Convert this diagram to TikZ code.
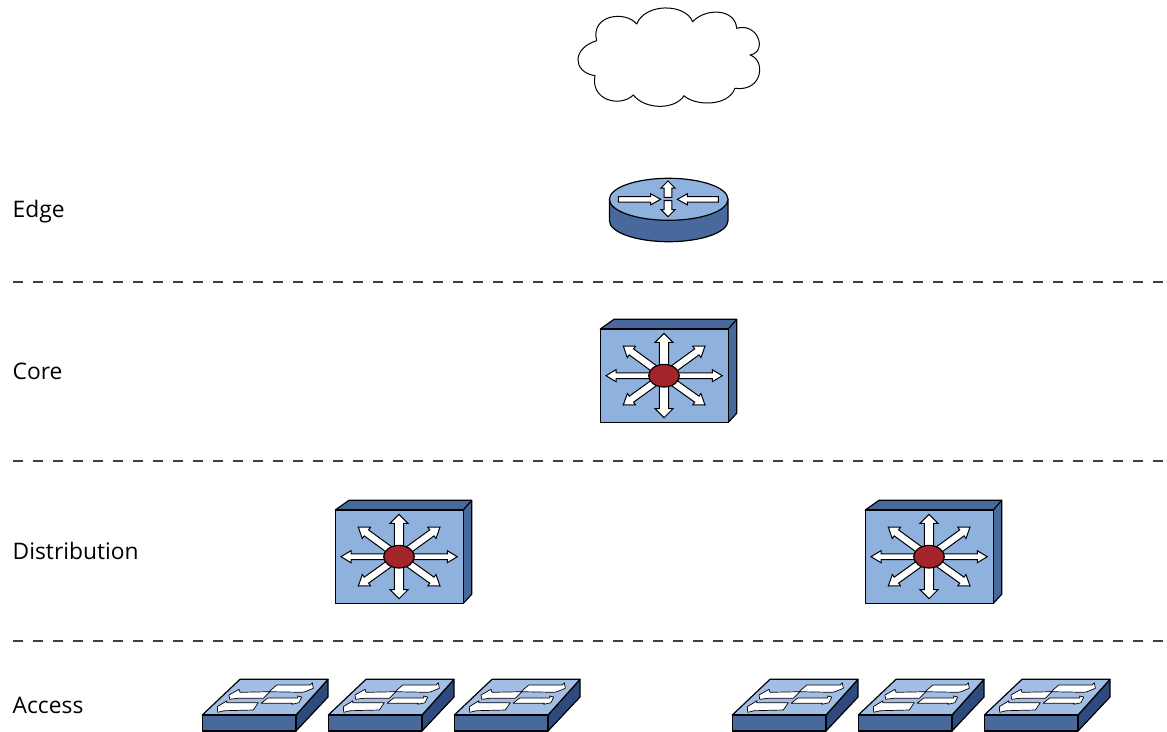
\documentclass[tikz,border=0pt]{standalone}
\usepackage{fontspec}
\setmainfont{Open Sans}
\definecolor{lightblue}{HTML}{8EB1DE}
\definecolor{midblue}{HTML}{48699C}
\definecolor{pale}{HTML}{A3BEE5}
\definecolor{sideblue}{HTML}{2F4A7E}
\definecolor{redhub}{HTML}{A3242B}
\tikzset{
  devline/.style={draw=black,line width=1.2pt,line join=round},
  blockarrow/.style={draw=black,fill=white,line width=1pt,line join=miter},
  levellabel/.style={anchor=base west,inner sep=0pt,font=\fontsize{22.8}{26}\selectfont},
  levelline/.style={draw=black!75,line width=1.3pt,dash pattern=on 10pt off 10pt},
  flagarrow/.style={draw=black,fill=white,line width=0.7pt,line join=round}
}
% tail x, tail y, tip x, tip y, shaft half width, head half width, head length
\newcommand{\blockarr}[7]{%
  \pgfmathsetmacro{\dxx}{#3-(#1)}\pgfmathsetmacro{\dyy}{#4-(#2)}%
  \pgfmathsetmacro{\lenn}{sqrt(\dxx*\dxx+\dyy*\dyy)}%
  \pgfmathsetmacro{\ux}{\dxx/\lenn}\pgfmathsetmacro{\uy}{\dyy/\lenn}%
  \pgfmathsetmacro{\bx}{#3-\ux*#7}\pgfmathsetmacro{\by}{#4-\uy*#7}%
  \draw[blockarrow]
    ({#1-\uy*#5},{#2+\ux*#5}) -- ({\bx-\uy*#5},{\by+\ux*#5}) --
    ({\bx-\uy*#6},{\by+\ux*#6}) -- (#3,#4) --
    ({\bx+\uy*#6},{\by-\ux*#6}) -- ({\bx+\uy*#5},{\by-\ux*#5}) --
    ({#1+\uy*#5},{#2-\ux*#5}) -- cycle;%
}
% L3 switch, offsets from the core switch
\newcommand{\layerthree}[2]{%
\begin{scope}[shift={(#1,#2)}]
  \fill[midblue,devline] (600.3,329) -- (614,319.3) -- (736.7,319.3) -- (736.7,413.3) -- (728.3,422.3) -- (728.3,329) -- cycle;
  \draw[devline] (728.3,329) -- (736.7,319.3);
  \fill[lightblue,devline] (600.3,329) rectangle (728.3,422.3);
  \blockarr{664}{375.7}{705}{346}{3.7}{7}{10}
  \blockarr{664}{375.7}{623.3}{346}{3.7}{7}{10}
  \blockarr{664}{375.7}{705}{405}{3.7}{7}{10}
  \blockarr{664}{375.7}{623.3}{405}{3.7}{7}{10}
  \blockarr{664}{375.7}{722.3}{375.7}{2.8}{6}{10}
  \blockarr{664}{375.7}{606}{375.7}{2.8}{6}{10}
  \blockarr{664}{375.7}{664}{333.3}{4.6}{9}{9}
  \blockarr{664}{375.7}{664}{417.7}{4.6}{9}{9}
  \fill[redhub,devline] (664,375.7) ellipse [x radius=15.3,y radius=11.3];
\end{scope}}
% L2 switch, by its front-left corner
\newcommand{\layertwo}[1]{%
\begin{scope}[shift={(#1-202,0)}]
  \fill[sideblue,devline] (296,715) -- (328,679.3) -- (328,697) -- (296,731) -- cycle;
  \fill[pale,devline] (202.3,715) -- (240,679.3) -- (328,679.3) -- (296,715) -- cycle;
  \fill[midblue,devline] (202.3,715) rectangle (296,731);
  \draw[flagarrow] (276.7,685) -- (310,685) -- (312.3,682.7) -- (313.3,688.3) -- (305,691.7) -- (302,692.3) -- (269,691.7) -- cycle;
  \draw[flagarrow] (267.7,698) -- (297.7,698) -- (297.7,696) -- (301.7,697) -- (299,702.7) -- (291.7,704.3) -- (292.3,703.3) -- (261,703.3) -- cycle;
  \draw[flagarrow] (270,691.7) -- (240,692.3) -- (239,689.3) -- (229,695) -- (229.7,699.3) -- (237.7,698.3) -- (263.3,698.3) -- cycle;
  \draw[flagarrow] (258.3,702.7) -- (226.7,702.7) -- (227,700.7) -- (217.3,706.7) -- (217.7,712.3) -- (224.3,710.7) -- (253.3,710) -- cycle;
\end{scope}}
\begin{document}
\begin{tikzpicture}[x=1pt,y=-1pt]
\useasboundingbox (0,0) rectangle (1167,731);
% cloud
\draw[draw=black,fill=white,line width=1pt,line join=round]
  (636.7,24) .. controls (645,3) and (685,3) .. (692.7,21.7)
  .. controls (705,8) and (735,8) .. (736.7,28.3)
  .. controls (758,22) and (768,52) .. (750,55)
  .. controls (766,60) and (763,92) .. (735,88.3)
  .. controls (728,107) and (695,106) .. (684,95.7)
  .. controls (675,110) and (645,110) .. (633.3,95)
  .. controls (620,108) and (590,100) .. (595,75.7)
  .. controls (572,72) and (572,48) .. (596.7,40.7)
  .. controls (590,15) and (625,10) .. (636.7,24) -- cycle;
% router
\fill[midblue,devline] (609.4,199.3) -- (609.4,220.7) arc [start angle=180,end angle=360,x radius=59.3,y radius=-21] -- (728,199.3) -- cycle;
\fill[lightblue,devline] (668.7,199.3) ellipse [x radius=59.3,y radius=21];
\blockarr{618.3}{199.3}{660.7}{199.3}{2.7}{5.5}{10}
\blockarr{718.3}{199.3}{677.3}{199.3}{2.7}{5.5}{10}
\blockarr{668}{197.3}{668}{181}{3.8}{7}{7}
\blockarr{668}{200.7}{668}{216.7}{3.8}{7}{7}
% switches
\layerthree{0}{0}
\layerthree{-265}{181}
\layerthree{265}{181}
\layertwo{202}\layertwo{328}\layertwo{454}
\layertwo{732}\layertwo{858}\layertwo{984}
% level lines
\coordinate (la1) at (13,282); \coordinate (lb1) at (1167,282);
\coordinate (la2) at (13,461); \coordinate (lb2) at (1167,461);
\coordinate (la3) at (13,641); \coordinate (lb3) at (1167,641);
\draw[levelline] (la1) -- (lb1);
\draw[levelline] (la2) -- (lb2);
\draw[levelline] (la3) -- (lb3);
% labels
\node[levellabel] (edge) at (12.5,217) {Edge};
\node[levellabel] (core) at (12.5,379) {Core};
\node[levellabel] (distribution) at (12.5,559) {Distribution};
\node[levellabel] (access) at (12.5,713) {Access};
\end{tikzpicture}
\end{document}
